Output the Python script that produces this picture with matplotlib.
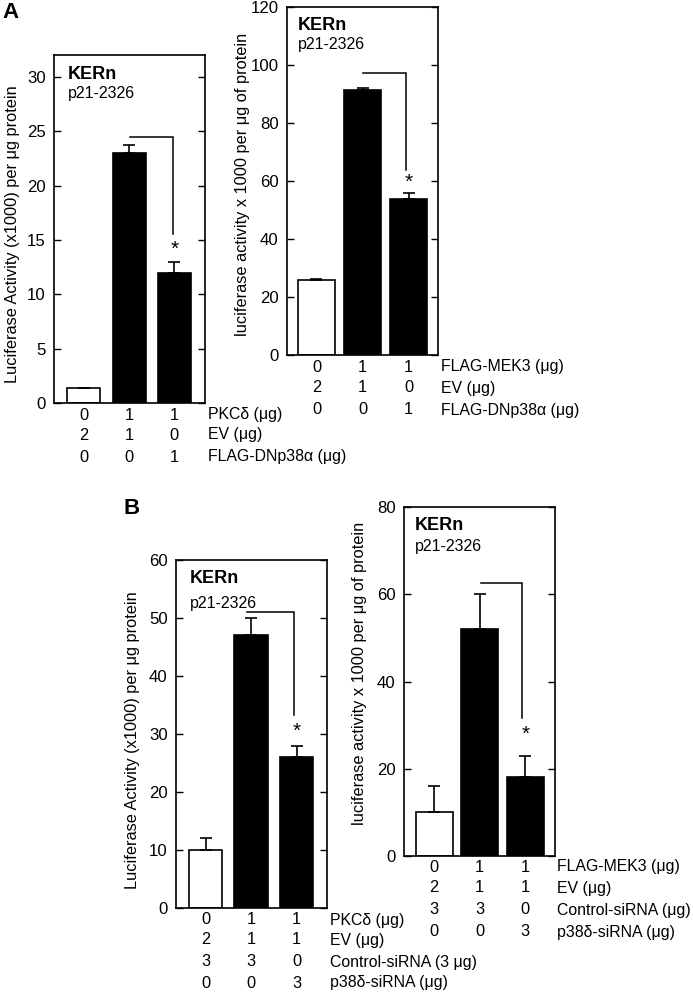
import matplotlib
matplotlib.use("Agg")
import matplotlib.pyplot as plt

plt.rcParams['font.family'] = ['Liberation Sans', 'DejaVu Sans']

W, H = 693, 993
fig = plt.figure(figsize=(W / 100, H / 100), dpi=100)

# ---------------- data ----------------
# Panel A, left
a1_values = [1.4, 23.0, 12.0]
a1_errors = [0.0, 0.7, 1.0]
a1_fill = ['white', 'black', 'black']
a1_rows = [['0', '1', '1'], ['2', '1', '0'], ['0', '0', '1']]
a1_rowlabels = ['PKCδ (μg)', 'EV (μg)', 'FLAG-DNp38α (μg)']
a1_yticks = [0, 5, 10, 15, 20, 25, 30]
a1_ylabel = 'Luciferase Activity (x1000) per μg protein'

# Panel A, right
a2_values = [26.0, 91.4, 53.9]
a2_errors = [0.3, 0.8, 1.9]
a2_fill = ['white', 'black', 'black']
a2_rows = [['0', '1', '1'], ['2', '1', '0'], ['0', '0', '1']]
a2_rowlabels = ['FLAG-MEK3 (μg)', 'EV (μg)', 'FLAG-DNp38α (μg)']
a2_yticks = [0, 20, 40, 60, 80, 100, 120]
a2_ylabel = 'luciferase activity x 1000 per μg of protein'

# Panel B, left
b1_values = [10.0, 47.0, 26.0]
b1_errors = [2.0, 3.0, 2.0]
b1_fill = ['white', 'black', 'black']
b1_rows = [['0', '1', '1'], ['2', '1', '1'], ['3', '3', '0'], ['0', '0', '3']]
b1_rowlabels = ['PKCδ (μg)', 'EV (μg)', 'Control-siRNA (3 μg)', 'p38δ-siRNA (μg)']
b1_yticks = [0, 10, 20, 30, 40, 50, 60]
b1_ylabel = 'Luciferase Activity (x1000) per μg protein'

# Panel B, right
b2_values = [10.0, 52.0, 18.0]
b2_errors = [6.0, 8.0, 5.0]
b2_fill = ['white', 'black', 'black']
b2_rows = [['0', '1', '1'], ['2', '1', '1'], ['3', '3', '0'], ['0', '0', '3']]
b2_rowlabels = ['FLAG-MEK3 (μg)', 'EV (μg)', 'Control-siRNA (μg)', 'p38δ-siRNA (μg)']
b2_yticks = [0, 20, 40, 60, 80]
b2_ylabel = 'luciferase activity x 1000 per μg of protein'

# significance brackets: (x_start, x_end, y_top, y_low, y_star)
a1_bracket = (1.03, 1.97, 24.5, 15.5, 14.1)
a2_bracket = (1.0, 1.94, 97.3, 63.8, 59.6)
b1_bracket = (0.91, 1.95, 51.0, 33.3, 30.4)
b2_bracket = (1.03, 1.92, 62.6, 31.6, 27.8)

FS = 11.8
RFS = 11.4


def make_panel(box, ylim, xlim, width, values, errors, fill, rows, rowlabels,
               yticks, ylabel, ylabel_pos, bracket, row_offsets, kern_pos,
               lab_gap=3):
    x0, y0, x1, y1 = box  # pixel coords, y from top
    ax = fig.add_axes([x0 / W, (H - y1) / H, (x1 - x0) / W, (y1 - y0) / H])
    xs = list(range(len(values)))
    ax.bar(xs, values, width=width, color=fill, edgecolor='black', linewidth=1.2,
           zorder=2)
    lower = [0] * len(errors)
    ax.errorbar(xs, values, yerr=[lower, errors], fmt='none', ecolor='black',
                elinewidth=1.2, capsize=4.5, capthick=1.2, zorder=3)
    ax.set_xlim(*xlim)
    ax.set_ylim(*ylim)
    ax.set_yticks(yticks)
    ax.set_xticks([])
    ax.tick_params(axis='y', direction='in', length=5, width=1.0, right=True,
                   labelright=False, labelsize=FS + 0.3, pad=6.0)
    for s in ax.spines.values():
        s.set_linewidth(1.2)
    ax.text(ylabel_pos[0], ylabel_pos[1], ylabel, transform=ax.transAxes,
            rotation=90, ha='center', va='center', fontsize=FS)
    # bracket
    xa, xb, yt, yl, ys = bracket
    ax.plot([xa, xb, xb], [yt, yt, yl], color='black', lw=1.1, zorder=3,
            solid_joinstyle='miter')
    ax.text(2, ys, '*', ha='center', va='center', fontsize=15)
    # KERn labels
    ax.text(kern_pos[0], kern_pos[1], 'KERn', transform=ax.transAxes,
            fontweight='bold', fontsize=13, ha='left', va='center')
    ax.text(kern_pos[0], kern_pos[2], 'p21-2326', transform=ax.transAxes,
            fontsize=FS - 0.3, ha='left', va='center')
    # row labels below axes
    hpx = y1 - y0
    trans = ax.get_xaxis_transform()
    for r, (vals, lab) in enumerate(zip(rows, rowlabels)):
        yf = -row_offsets[r] / hpx
        for xi, v in zip(xs, vals):
            ax.text(xi, yf, v, transform=trans, ha='center', va='center',
                    fontsize=FS)
        ax.text(1 + lab_gap / (x1 - x0), yf, lab, transform=ax.transAxes,
                ha='left', va='center', fontsize=RFS)
    return ax


make_panel((54, 55, 205, 403), (0, 32), (-0.66, 2.68), 0.73,
           a1_values, a1_errors, a1_fill, a1_rows, a1_rowlabels, a1_yticks,
           a1_ylabel, (-0.278, 0.486), a1_bracket, [12, 32, 54],
           (0.093, 0.945, 0.888))
make_panel((287, 7, 438, 355), (0, 120), (-0.64, 2.64), 0.8,
           a2_values, a2_errors, a2_fill, a2_rows, a2_rowlabels, a2_yticks,
           a2_ylabel, (-0.298, 0.491), a2_bracket, [12, 33, 55],
           (0.073, 0.948, 0.891))
make_panel((176, 560, 327, 908), (0, 60), (-0.65, 2.67), 0.73,
           b1_values, b1_errors, b1_fill, b1_rows, b1_rowlabels, b1_yticks,
           b1_ylabel, (-0.285, 0.483), b1_bracket, [12, 32, 54, 75],
           (0.093, 0.948, 0.876))
make_panel((404, 507, 555, 856), (0, 80), (-0.66, 2.65), 0.81,
           b2_values, b2_errors, b2_fill, b2_rows, b2_rowlabels, b2_yticks,
           b2_ylabel, (-0.298, 0.524), b2_bracket, [11, 32, 54, 76],
           (0.073, 0.948, 0.888), lab_gap=2)

fig.text(2 / W, 1 - 12 / H, 'A', fontsize=16, fontweight='bold', ha='left',
         va='center')
fig.text(123 / W, 1 - 508 / H, 'B', fontsize=16, fontweight='bold', ha='left',
         va='center')

fig.savefig('out.png', dpi=100)
